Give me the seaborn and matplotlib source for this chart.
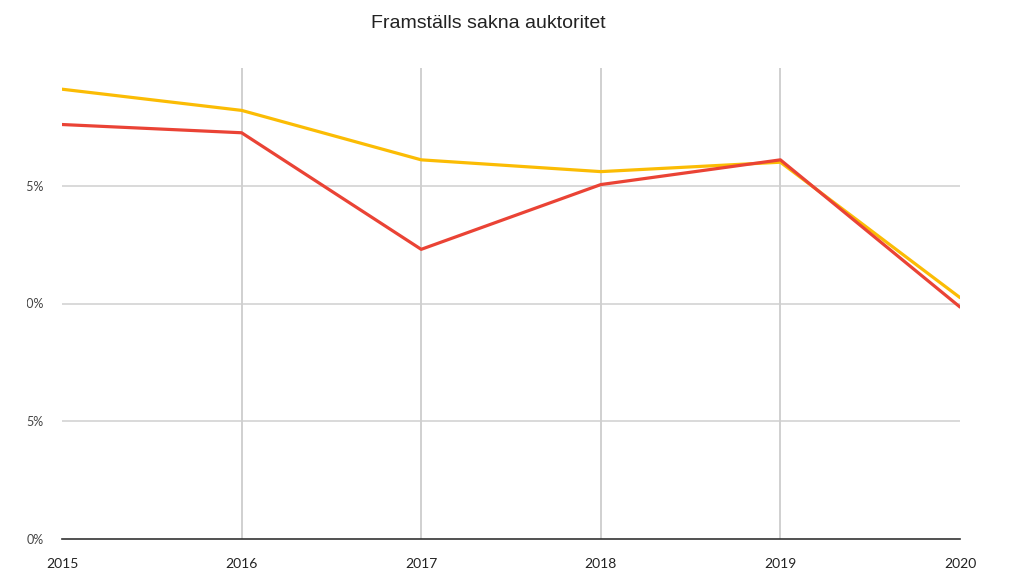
import matplotlib
matplotlib.use("Agg")
import matplotlib.pyplot as plt
from matplotlib.transforms import Bbox, TransformedBbox
import seaborn as sns
import pandas as pd

years = [2015, 2016, 2017, 2018, 2019, 2020]
series_yellow = [19.1, 18.2, 16.1, 15.6, 16.0, 10.25]
series_red = [17.6, 17.25, 12.3, 15.05, 16.1, 9.85]
y_ticks = [0, 5, 10, 15]
y_tick_labels = ["0%", "5%", "10%", "15%"]
title = "Framställs sakna auktoritet"

df = pd.DataFrame({
    "year": years * 2,
    "value": series_yellow + series_red,
    "series": ["A"] * len(years) + ["B"] * len(years),
})

sns.set_theme(style="white")
plt.rcParams["font.family"] = ["Liberation Sans", "DejaVu Sans"]

fig = plt.figure(figsize=(10.1, 5.69), dpi=100)
ax = fig.add_axes([62 / 1010, 30 / 569, 898 / 1010, 471 / 569])

for yr in years[1:-1]:
    ax.axvline(yr, color="#d0d0d0", lw=1.4, zorder=0)
for t in y_ticks[1:]:
    ax.axhline(t, color="#cfcfcf", lw=1.1, zorder=0)

sns.lineplot(data=df, x="year", y="value", hue="series",
             palette={"A": "#fbbc04", "B": "#ea4335"},
             linewidth=2.3, legend=False, ax=ax, zorder=3)

ax.set_xlim(years[0], years[-1])
ax.set_ylim(0, 20)
ax.set_xticks(years)
ax.set_xticklabels([str(y) for y in years], fontsize=10, color="#222222", family="Lato")
ax.set_yticks(y_ticks)
ax.set_yticklabels(y_tick_labels, fontsize=9, color="#444444", family="Lato")
ax.tick_params(axis="y", length=0, pad=13)
ax.tick_params(axis="x", length=0, pad=14)
ax.set_xlabel("")
ax.set_ylabel("")
for s in ["top", "right", "left"]:
    ax.spines[s].set_visible(False)
ax.spines["bottom"].set_color("#333333")
ax.spines["bottom"].set_linewidth(1.2)

clip = TransformedBbox(Bbox([[27 / 1010, 0], [1, 1]]), fig.transFigure)
for lab in ax.get_yticklabels():
    lab.set_clip_box(clip)
    lab.set_clip_on(True)

fig.text(488 / 1010, 1 - 23 / 569, title, ha="center", va="center",
         fontsize=14, color="#222222")

fig.savefig("out.png", dpi=100)
